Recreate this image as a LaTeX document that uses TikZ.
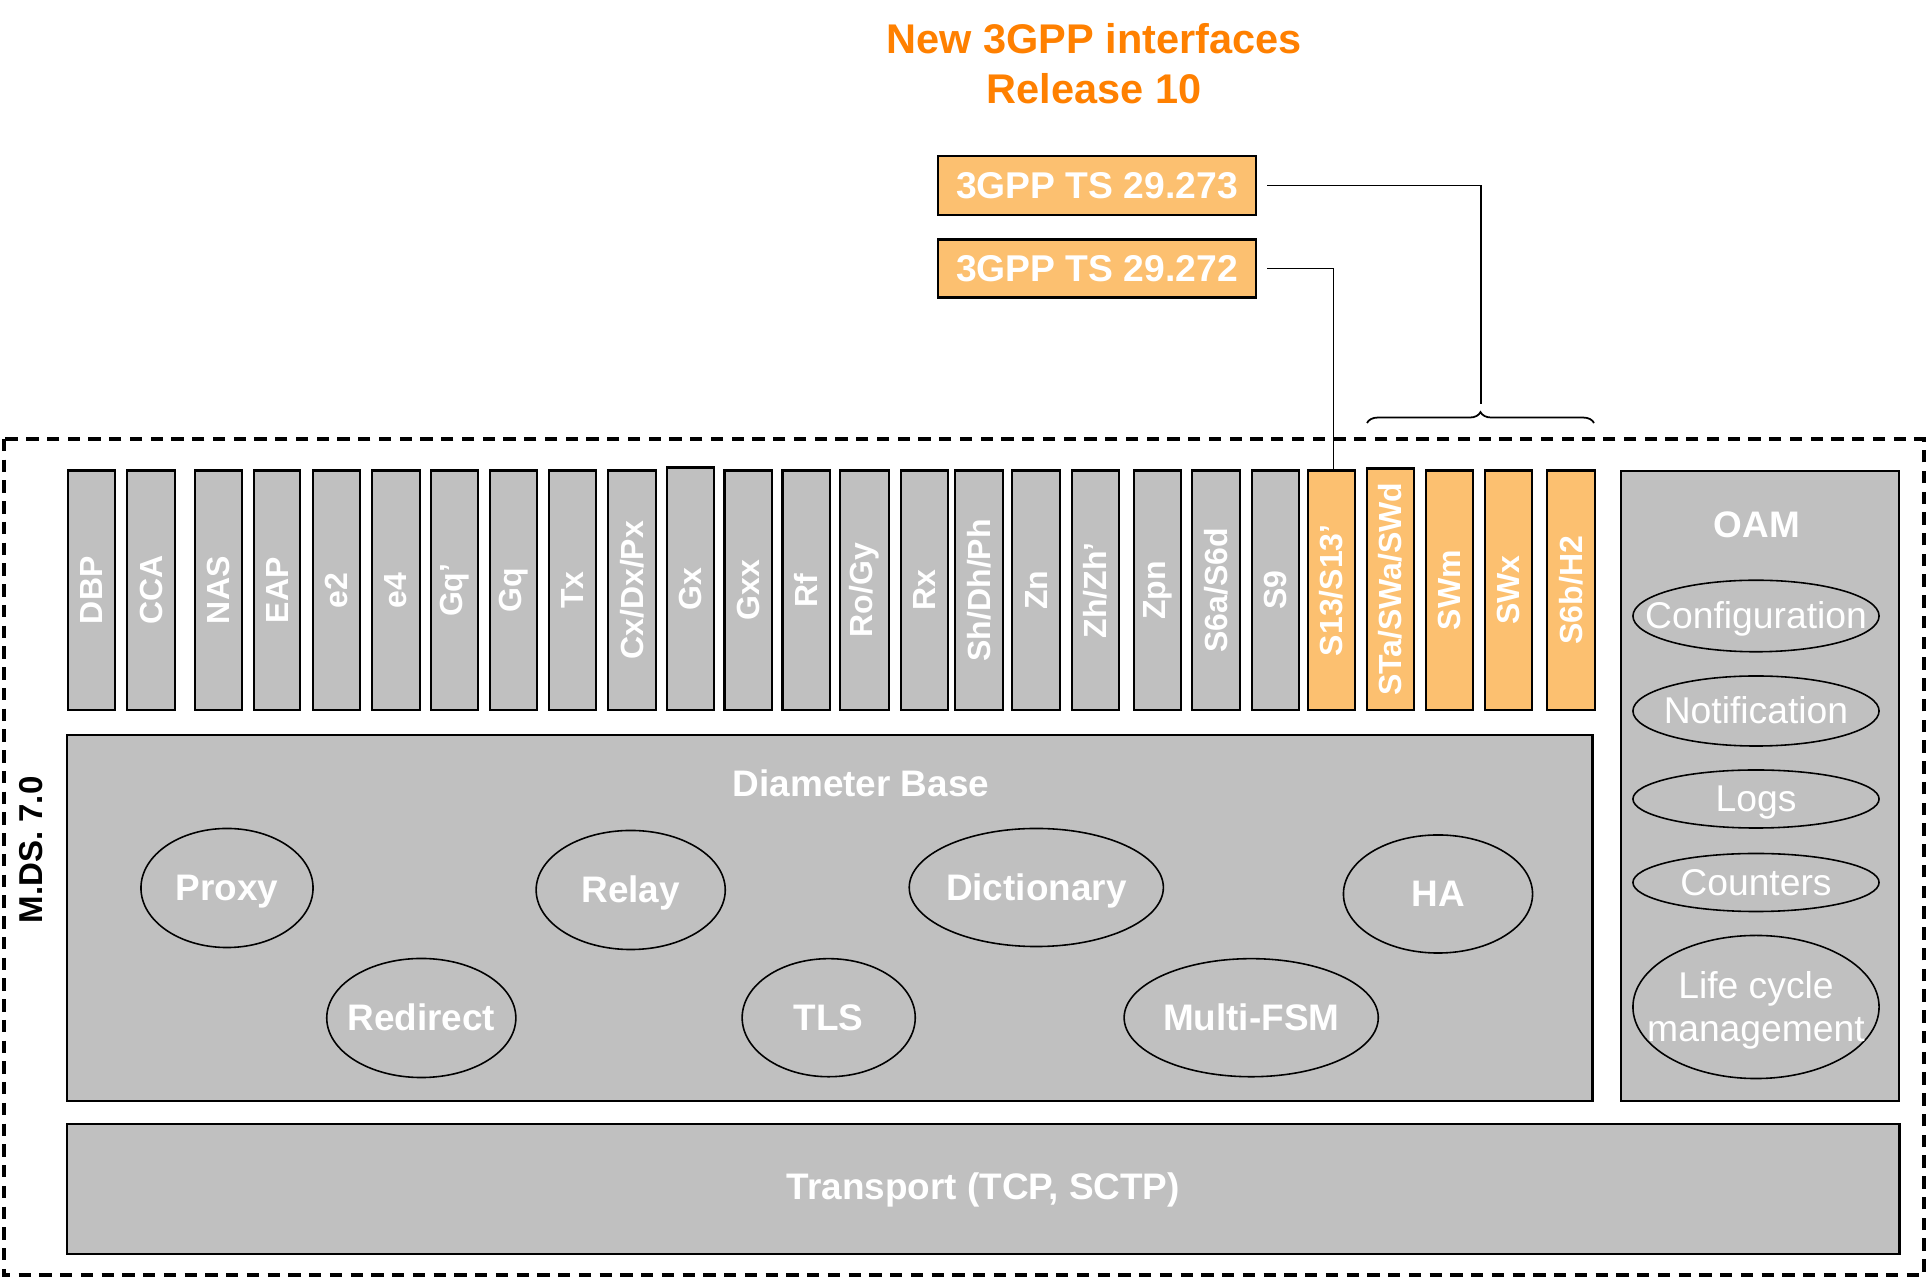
\documentclass[tikz,border=0pt]{standalone}
\usepackage{fontspec}
\setmainfont{Liberation Sans}
\usetikzlibrary{shapes.geometric,decorations.pathreplacing}
\definecolor{boxgray}{HTML}{C0C0C0}
\definecolor{lorange}{HTML}{FCC070}
\definecolor{torange}{HTML}{FF8000}
\newcommand\colbox[6]{%
  \node[#6, minimum width={(#3-#2)*0.01cm}, minimum height={(710-#4)*0.01cm}] (#1) at ({(#2+#3)/2},{(#4+710)/2}) {\rotatebox{90}{#5}};}
\begin{document}
\begin{tikzpicture}[x=0.01cm,y=-0.01cm,
  colstyle/.style={draw=black, line width=0.6pt, fill=boxgray, inner sep=0pt, text=white,
    font=\bfseries\fontsize{9.1pt}{11pt}\selectfont},
  newcol/.style={colstyle, fill=lorange},
  bigbox/.style={draw=black, line width=0.6pt, fill=boxgray, inner sep=0pt},
  spec/.style={draw=black, line width=0.7pt, fill=lorange, inner sep=0pt, text=white,
    font=\bfseries\fontsize{10.6pt}{12pt}\selectfont},
  ell/.style={ellipse, draw=black, line width=0.45pt, fill=boxgray, inner sep=0pt},
  elltext/.style={text=white, font=\bfseries\fontsize{10.5pt}{12pt}\selectfont, inner sep=0pt, text height=0.72em, text depth=0pt},
  oamtext/.style={text=white, font=\fontsize{10.6pt}{12.3pt}\selectfont, inner sep=0pt, text height=0.72em, text depth=0pt},
  oamtwo/.style={text=white, font=\fontsize{10.6pt}{12.3pt}\selectfont, inner sep=0pt, align=center, yshift=-1pt},
  head/.style={text=white, font=\bfseries\fontsize{10.5pt}{12pt}\selectfont, inner sep=0pt},
  conn/.style={draw=black, line width=0.45pt}
]
\useasboundingbox (0,0) rectangle (1927,1280);

% outer dashed frame
\draw[line width=1.05pt, dash pattern=on 3.5pt off 2.4pt] (4,439) rectangle (1924,1275);
\node[rotate=90, font=\bfseries\fontsize{9.4pt}{11pt}\selectfont, inner sep=0pt] (mds) at (31,850) {M.DS. 7.0};

% title
\node[text=torange, align=center, font=\bfseries\fontsize{11.8pt}{14.3pt}\selectfont, inner sep=0pt] (title) at (1094,64) {New 3GPP interfaces\\Release 10};

% spec boxes
\node[spec, minimum width=3.18cm, minimum height=0.59cm] (g273) at (1097,185.5) {3GPP TS 29.273};
\node[spec, minimum width=3.18cm, minimum height=0.577cm] (g272) at (1097,268.5) {3GPP TS 29.272};

% interface columns
\colbox{dbp}{68}{115}{470.5}{DBP}{colstyle}
\colbox{cca}{127}{175}{470.5}{CCA}{colstyle}
\colbox{nas}{195}{242}{470.5}{NAS}{colstyle}
\colbox{eap}{254}{300}{470.5}{EAP}{colstyle}
\colbox{etwo}{313}{360}{470.5}{e2}{colstyle}
\colbox{efour}{372}{420}{470.5}{e4}{colstyle}
\colbox{gqp}{431}{478}{470.5}{Gq’}{colstyle}
\colbox{gq}{490}{537}{470.5}{Gq}{colstyle}
\colbox{tx}{549}{596}{470.5}{Tx}{colstyle}
\colbox{cx}{608}{656}{470.5}{Cx/Dx/Px}{colstyle}
\colbox{gx}{667}{714}{467.5}{Gx}{colstyle}
\colbox{gxx}{724.5}{772}{470.5}{Gxx}{colstyle}
\colbox{rf}{782.5}{830}{470.5}{Rf}{colstyle}
\colbox{ro}{840}{889}{470.5}{Ro/Gy}{colstyle}
\colbox{rx}{901}{948}{470.5}{Rx}{colstyle}
\colbox{sh}{955}{1003}{470.5}{Sh/Dh/Ph}{colstyle}
\colbox{zn}{1012}{1060}{470.5}{Zn}{colstyle}
\colbox{zh}{1072}{1119}{470.5}{Zh/Zh’}{colstyle}
\colbox{zpn}{1134}{1181}{470.5}{Zpn}{colstyle}
\colbox{ssixa}{1192}{1240}{470.5}{S6a/S6d}{colstyle}
\colbox{snine}{1252}{1299}{470.5}{S9}{colstyle}
\colbox{sthirteen}{1308}{1355}{470.5}{S13/S13’}{newcol}
\colbox{sta}{1367}{1414}{468.5}{STa/SWa/SWd}{newcol}
\colbox{swm}{1426}{1473}{470.5}{SWm}{newcol}
\colbox{swx}{1485}{1532}{470.5}{SWx}{newcol}
\colbox{ssixb}{1547}{1595}{470.5}{S6b/H2}{newcol}

% brace over the new interfaces
\draw[line width=0.5pt, decorate, decoration={brace, amplitude=3.1pt}] (1367,423) -- (1594,423);
\coordinate (bracetip) at (1481,404);

% connectors
\draw[conn] ([xshift=0.1cm]g273.east) -| (bracetip);
\draw[conn] ([xshift=0.1cm]g272.east) -| ([xshift=0.02cm]sthirteen.north);

% Diameter base
\node[bigbox, minimum width=15.244cm, minimum height=3.66cm] (dbase) at (829.8,918) {};
\node[head] (dbtitle) at (861,783) {Diameter Base};
\node[ell, minimum width=1.72cm, minimum height=1.19cm, label={[elltext]center:Proxy}] (proxy) at (227,888) {};
\node[ell, minimum width=1.89cm, minimum height=1.19cm, label={[elltext]center:Relay}] (relay) at (630.7,890) {};
\node[ell, minimum width=2.54cm, minimum height=1.18cm, label={[elltext]center:Dictionary}] (dict) at (1036.3,887.5) {};
\node[ell, minimum width=1.89cm, minimum height=1.18cm, label={[elltext]center:HA}] (ha) at (1438,894) {};
\node[ell, minimum width=1.89cm, minimum height=1.19cm, label={[elltext]center:Redirect}] (redirect) at (421.3,1018) {};
\node[ell, minimum width=1.73cm, minimum height=1.18cm, label={[elltext]center:TLS}] (tls) at (828.7,1017.7) {};
\node[ell, minimum width=2.54cm, minimum height=1.18cm, label={[elltext]center:Multi-FSM}] (mfsm) at (1251.2,1017.7) {};

% OAM
\node[bigbox, minimum width=2.78cm, minimum height=6.303cm] (oam) at (1760,785.9) {};
\node[head] (oamtitle) at (1757,525) {OAM};
\node[ell, minimum width=2.46cm, minimum height=0.715cm, label={[oamtext]center:Configuration}] (conf) at (1756,616) {};
\node[ell, minimum width=2.46cm, minimum height=0.70cm, label={[oamtext]center:Notification}] (notif) at (1756,711) {};
\node[ell, minimum width=2.46cm, minimum height=0.58cm, label={[oamtext]center:Logs}] (logs) at (1756,799) {};
\node[ell, minimum width=2.46cm, minimum height=0.58cm, label={[oamtext]center:Counters}] (counters) at (1756,882.5) {};
\node[ell, minimum width=2.46cm, minimum height=1.43cm, label={[oamtwo]center:{Life cycle\\management}}] (life) at (1756,1007) {};

% Transport
\node[bigbox, minimum width=18.314cm, minimum height=1.292cm] (transport) at (983.3,1189) {};
\node[head] (transtext) at (983.3,1190) {Transport (TCP, SCTP)};
\end{tikzpicture}
\end{document}
